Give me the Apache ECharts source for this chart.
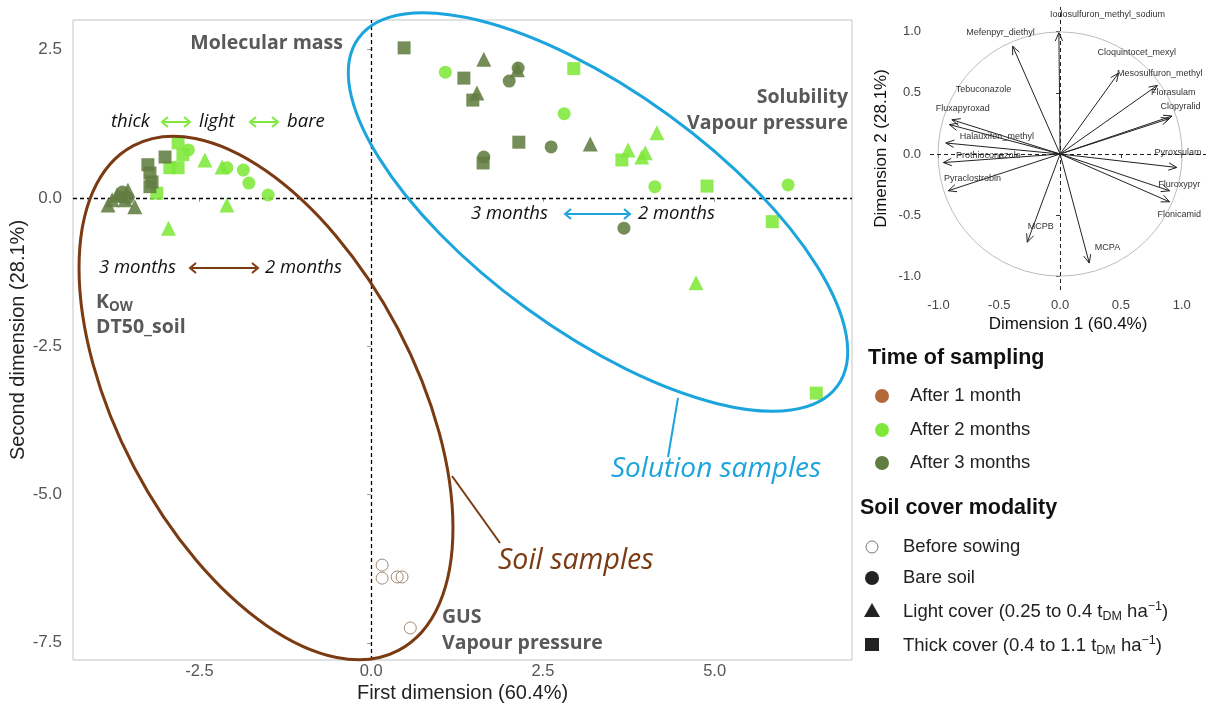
<!DOCTYPE html>
<html>
<head>
<meta charset="utf-8">
<script src="https://cdn.jsdelivr.net/npm/echarts@6/dist/echarts.min.js"></script>
<style>
  html, body { margin: 0; padding: 0; background: #ffffff; }
  #chart { width: 1206px; height: 711px; }
</style>
</head>
<body>
<div id="chart"></div>
<script>
// ---- PCA individuals: [first dimension, second dimension] ----
const month2Bare  = [[-2.66, 0.81], [-2.10, 0.51], [-1.86, 0.47], [-1.78, 0.25], [-1.50, 0.05],
                     [1.08, 2.12], [2.81, 1.42], [4.13, 0.19], [6.07, 0.22]];
const month2Light = [[-2.42, 0.64], [-2.17, 0.52], [-2.10, -0.12], [-2.95, -0.51],
                     [3.74, 0.81], [3.99, 0.76], [4.16, 1.10], [3.94, 0.69], [4.73, -1.43]];
const month2Thick = [[-2.81, 0.93], [-2.93, 0.51], [-2.81, 0.51], [-3.12, 0.08], [-2.74, 0.73],
                     [2.95, 2.18], [3.65, 0.64], [4.89, 0.20], [5.84, -0.40], [6.48, -3.29]];
const month3Bare  = [[-3.65, 0.02], [-3.54, 0.00], [-3.62, 0.10],
                     [2.14, 2.19], [2.01, 1.97], [2.62, 0.86], [1.64, 0.69], [3.68, -0.51]];
const month3Light = [[-3.83, -0.12], [-3.70, 0.05], [-3.54, 0.13], [-3.44, -0.15], [-3.58, -0.03], [-3.77, -0.03],
                     [1.64, 2.34], [1.54, 1.77], [2.13, 2.16], [3.19, 0.91]];
const month3Thick = [[-3.25, 0.56], [-3.22, 0.42], [-3.19, 0.27], [-3.22, 0.19], [-3.00, 0.69],
                     [0.48, 2.53], [1.35, 2.02], [1.48, 1.65], [2.15, 0.94], [1.63, 0.59]];
const beforeSowing = [[0.16, -6.19], [0.16, -6.41], [0.38, -6.39], [0.45, -6.39], [0.57, -7.25]];

const mainXTicks = [-2.5, 0, 2.5, 5];
const mainYTicks = [-7.5, -5, -2.5, 0, 2.5];

// ---- PCA variables (correlation circle) ----
const loadingNames = ['Iodosulfuron_methyl_sodium', 'Mefenpyr_diethyl', 'Cloquintocet_mexyl', 'Mesosulfuron_methyl',
  'Florasulam', 'Clopyralid', 'Tebuconazole', 'Fluxapyroxad', 'Halauxifen_methyl', 'Prothioconazole',
  'Pyraclostrobin', 'Pyroxsulam', 'Fluroxypyr', 'Flonicamid', 'MCPB', 'MCPA'];
const loadingDim1 = [-0.01, -0.39, 0.48, 0.80, 0.92, 0.90, -0.89, -0.91, -0.94, -0.96, -0.92, 0.96, 0.90, 0.90, -0.27, 0.24];
const loadingDim2 = [0.99, 0.88, 0.66, 0.56, 0.31, 0.29, 0.28, 0.24, 0.09, -0.07, -0.30, -0.11, -0.30, -0.39, -0.72, -0.89];
// where each variable name is written (repelled label anchors)
const labelDim1 = [0.39, -0.49, 0.63, 0.82, 0.93, 0.99, -0.63, -0.80, -0.52, -0.59, -0.72, 0.97, 0.98, 0.98, -0.16, 0.39];
const labelDim2 = [1.14, 0.99, 0.83, 0.66, 0.50, 0.385, 0.53, 0.37, 0.14, -0.01, -0.20, 0.01, -0.25, -0.49, -0.59, -0.76];
const insetTicks = [-1.0, -0.5, 0.0, 0.5, 1.0];

// ---- styling ----
const C_M1 = '#b4693a';
const C_M2 = '#7fe83a';
const C_M3 = '#627d41';
const C_SOIL = '#7a3a12';
const C_SOLN = '#1ba5dc';
const NARROW = "'Liberation Sans Narrow', 'Liberation Sans', sans-serif";
const SANS = "'Liberation Sans', Arial, sans-serif";
const HUMAN = "'Open Sans', 'Noto Sans', sans-serif";

function pointSeries(name, data, symbol, size, color) {
  return {
    name, type: 'scatter', xAxisIndex: 0, yAxisIndex: 0, data,
    symbol, symbolSize: size, z: 3,
    itemStyle: { color, opacity: 0.88 },
    emphasis: { disabled: true }
  };
}

const arrowData = loadingDim1.map((x, i) => [x, loadingDim2[i]]);
const labelData = labelDim1.map((x, i) => [x, labelDim2[i], loadingNames[i]]);

const option = {
  animation: false,
  backgroundColor: '#ffffff',
  grid: [
    { left: 73, top: 20, width: 779, height: 640, outerBoundsMode: 'none', containLabel: false,
      show: true, borderColor: '#c4c4c4', borderWidth: 1, backgroundColor: 'transparent' },
    { left: 930, top: 7, width: 276, height: 283, outerBoundsMode: 'none', containLabel: false, show: false }
  ],
  xAxis: [
    {
      gridIndex: 0, type: 'value', min: -4.34, max: 7.0,
      splitLine: { show: false }, axisLine: { show: false },
      axisTick: { show: true, length: 4, lineStyle: { color: '#9a9a9a' }, customValues: mainXTicks },
      axisLabel: { customValues: mainXTicks, color: '#555', fontFamily: NARROW, fontSize: 16.5, margin: 3,
                   formatter: v => v.toFixed(1) },
      name: 'First dimension (60.4%)', nameLocation: 'middle', nameGap: 23, nameMoveOverlap: false,
      nameTextStyle: { color: '#222', fontFamily: SANS, fontSize: 20 }
    },
    {
      gridIndex: 1, type: 'value', min: -1.07, max: 1.2,
      splitLine: { show: false }, axisLine: { show: false },
      axisTick: { show: true, length: 4, lineStyle: { color: '#333' }, customValues: insetTicks },
      axisLabel: { customValues: insetTicks, color: '#444', fontFamily: SANS, fontSize: 13, margin: 9,
                   formatter: v => v.toFixed(1) },
      name: 'Dimension 1 (60.4%)', nameLocation: 'middle', nameGap: 26,
      nameTextStyle: { color: '#111', fontFamily: SANS, fontSize: 17 }
    }
  ],
  yAxis: [
    {
      gridIndex: 0, type: 'value', min: -7.79, max: 3.0,
      splitLine: { show: false }, axisLine: { show: false },
      axisTick: { show: true, length: 4, lineStyle: { color: '#9a9a9a' }, customValues: mainYTicks },
      axisLabel: { customValues: mainYTicks, color: '#555', fontFamily: NARROW, fontSize: 17, margin: 11,
                   formatter: v => v.toFixed(1) },
      name: 'Second dimension (28.1%)', nameLocation: 'middle', nameGap: 45, nameMoveOverlap: false,
      nameTextStyle: { color: '#222', fontFamily: SANS, fontSize: 20 }
    },
    {
      gridIndex: 1, type: 'value', min: -1.11, max: 1.2,
      splitLine: { show: false }, axisLine: { show: false },
      axisTick: { show: true, length: 4, lineStyle: { color: '#333' }, customValues: insetTicks },
      axisLabel: { customValues: insetTicks, color: '#444', fontFamily: SANS, fontSize: 13, margin: 9,
                   formatter: v => v.toFixed(1) },
      name: 'Dimension 2 (28.1%)', nameLocation: 'middle', nameGap: 40,
      nameTextStyle: { color: '#111', fontFamily: SANS, fontSize: 17 }
    }
  ],
  series: [
    pointSeries('month2Bare', month2Bare, 'circle', 13, C_M2),
    pointSeries('month2Light', month2Light, 'triangle', 15, C_M2),
    pointSeries('month2Thick', month2Thick, 'rect', 13, C_M2),
    pointSeries('month3Bare', month3Bare, 'circle', 13, C_M3),
    pointSeries('month3Light', month3Light, 'triangle', 15, C_M3),
    pointSeries('month3Thick', month3Thick, 'rect', 13, C_M3),
    {
      name: 'beforeSowing', type: 'scatter', xAxisIndex: 0, yAxisIndex: 0, data: beforeSowing,
      symbol: 'circle', symbolSize: 12, z: 3,
      itemStyle: { color: 'rgba(255,255,255,0)', borderColor: '#8c6f55', borderWidth: 1 },
      emphasis: { disabled: true },
      markLine: {
        silent: true, symbol: 'none', z: 2,
        label: { show: false },
        lineStyle: { color: '#000', type: [4, 3], width: 1.3 },
        data: [{ xAxis: 0 }, { yAxis: 0 }]
      }
    },
    // correlation circle
    {
      type: 'custom', xAxisIndex: 1, yAxisIndex: 1, data: [[0, 0]], silent: true, z: 1,
      renderItem(params, api) {
        const c = api.coord([0, 0]);
        const s = api.size([1, 1]);
        return { type: 'circle', shape: { cx: c[0], cy: c[1], r: (s[0] + s[1]) / 2 },
                 style: { fill: 'none', stroke: '#bdbdbd', lineWidth: 1 } };
      },
      markLine: {
        silent: true, symbol: 'none',
        label: { show: false },
        lineStyle: { color: '#222', type: [4, 3], width: 1 },
        data: [{ xAxis: 0 }, { yAxis: 0 }]
      }
    },
    // variable arrows
    {
      type: 'custom', xAxisIndex: 1, yAxisIndex: 1, data: arrowData, silent: true, z: 2,
      renderItem(params, api) {
        const o = api.coord([0, 0]);
        const p = api.coord([api.value(0), api.value(1)]);
        const ang = Math.atan2(p[1] - o[1], p[0] - o[0]);
        const L = 9, spread = 0.42;
        const a1 = [p[0] - L * Math.cos(ang - spread), p[1] - L * Math.sin(ang - spread)];
        const a2 = [p[0] - L * Math.cos(ang + spread), p[1] - L * Math.sin(ang + spread)];
        const st = { stroke: '#222', lineWidth: 1, fill: 'none' };
        return { type: 'group', children: [
          { type: 'line', shape: { x1: o[0], y1: o[1], x2: p[0], y2: p[1] }, style: st },
          { type: 'polyline', shape: { points: [a1, p, a2] }, style: st }
        ]};
      }
    },
    // variable names
    {
      type: 'custom', xAxisIndex: 1, yAxisIndex: 1, data: labelData, silent: true, z: 3,
      renderItem(params, api) {
        const p = api.coord([api.value(0), api.value(1)]);
        return { type: 'text', x: p[0], y: p[1],
                 style: { text: labelData[params.dataIndex][2], fill: '#333', font: "9px " + SANS,
                          align: 'center', verticalAlign: 'middle' } };
      }
    }
  ],
  graphic: { elements: [] }
};

// ---- annotations over the score plot ----
const G = option.graphic.elements;
function txt(x, y, text, font, fill, align, rich) {
  G.push({ type: 'text', x, y, z: 50, silent: true,
           style: { text, font, fill, align: align || 'left', verticalAlign: 'middle', rich } });
}
function dblArrow(x1, x2, y, color, w) {
  const h = 5;
  G.push({ type: 'line', z: 50, silent: true, shape: { x1: x1 + 2, y1: y, x2: x2 - 2, y2: y },
           style: { stroke: color, lineWidth: w } });
  G.push({ type: 'polyline', z: 50, silent: true, shape: { points: [[x1 + h + 1, y - h], [x1, y], [x1 + h + 1, y + h]] },
           style: { stroke: color, lineWidth: w, fill: 'none' } });
  G.push({ type: 'polyline', z: 50, silent: true, shape: { points: [[x2 - h - 1, y - h], [x2, y], [x2 - h - 1, y + h]] },
           style: { stroke: color, lineWidth: w, fill: 'none' } });
}

// sample groups
G.push({ type: 'ellipse', z: 40, silent: true, x: 266, y: 398, rotation: 27.7 * Math.PI / 180,
         shape: { cx: 0, cy: 0, rx: 149, ry: 285 }, style: { fill: 'none', stroke: C_SOIL, lineWidth: 3 } });
G.push({ type: 'ellipse', z: 40, silent: true, x: 598, y: 212, rotation: -36 * Math.PI / 180,
         shape: { cx: 0, cy: 0, rx: 296, ry: 120 }, style: { fill: 'none', stroke: C_SOLN, lineWidth: 3 } });
G.push({ type: 'line', z: 40, silent: true, shape: { x1: 452, y1: 476, x2: 500, y2: 543 },
         style: { stroke: C_SOIL, lineWidth: 2 } });
G.push({ type: 'line', z: 40, silent: true, shape: { x1: 678, y1: 398, x2: 668, y2: 457 },
         style: { stroke: C_SOLN, lineWidth: 2 } });
txt(498, 561, 'Soil samples', 'italic 28.5px ' + HUMAN, C_SOIL);
txt(611, 469, 'Solution samples', 'italic 28px ' + HUMAN, C_SOLN);

// property annotations
const PROP = 'bold 19.5px ' + HUMAN;
txt(343, 43, 'Molecular mass', PROP, '#595959', 'right');
txt(848, 97, 'Solubility', PROP, '#595959', 'right');
txt(848, 123, 'Vapour pressure', PROP, '#595959', 'right');
txt(96, 302, 'K{s|OW}', PROP, '#595959', 'left', { s: { font: 'bold 13.5px ' + HUMAN, fill: '#595959', padding: [10, 0, 0, 0] } });
txt(96, 327, 'DT50_soil', PROP, '#595959');
txt(442, 617, 'GUS', PROP, '#595959');
txt(442, 643, 'Vapour pressure', PROP, '#595959');

// gradients
const IT = 'italic 18.5px ' + HUMAN;
txt(111, 122, 'thick', IT, '#111');
dblArrow(162, 190, 122, '#7fe83a', 2);
txt(199, 122, 'light', IT, '#111');
dblArrow(250, 278, 122, '#7fe83a', 2);
txt(287, 122, 'bare', IT, '#111');
txt(99, 268, '3 months', IT, '#111');
dblArrow(190, 258, 268, '#7a3a12', 2);
txt(265, 268, '2 months', IT, '#111');
txt(471, 214, '3 months', IT, '#111');
dblArrow(565, 630, 214, C_SOLN, 2);
txt(638, 214, '2 months', IT, '#111');

// ---- legends ----
const LH = 'bold 21.5px ' + SANS;
const LT = '18.5px ' + SANS;
txt(868, 358, 'Time of sampling', LH, '#111');
[[396, C_M1, 'After 1 month'], [430, C_M2, 'After 2 months'], [463, C_M3, 'After 3 months']].forEach(([y, c, t]) => {
  G.push({ type: 'circle', z: 50, silent: true, shape: { cx: 882, cy: y, r: 7 }, style: { fill: c } });
  txt(910, y, t, LT, '#222');
});
txt(860, 508, 'Soil cover modality', LH, '#111');
G.push({ type: 'circle', z: 50, silent: true, shape: { cx: 872, cy: 547, r: 6 }, style: { fill: '#fff', stroke: '#777', lineWidth: 1 } });
txt(903, 547, 'Before sowing', LT, '#222');
G.push({ type: 'circle', z: 50, silent: true, shape: { cx: 872, cy: 578, r: 7 }, style: { fill: '#222' } });
txt(903, 578, 'Bare soil', LT, '#222');
G.push({ type: 'polygon', z: 50, silent: true, shape: { points: [[872, 603], [880, 617], [864, 617]] }, style: { fill: '#222' } });
const richUnits = {
  sub: { font: '12.5px ' + SANS, fill: '#222', padding: [9, 0, 0, 0] },
  sup: { font: '12.5px ' + SANS, fill: '#222', padding: [0, 0, 11, 0] }
};
txt(903, 612, 'Light cover (0.25 to 0.4 t{sub|DM} ha{sup|\u22121})', LT, '#222', 'left', richUnits);
G.push({ type: 'rect', z: 50, silent: true, shape: { x: 865, y: 638, width: 14, height: 13 }, style: { fill: '#222' } });
txt(903, 646, 'Thick cover (0.4 to 1.1 t{sub|DM} ha{sup|\u22121})', LT, '#222', 'left', richUnits);

const chart = echarts.init(document.getElementById('chart'));
chart.setOption(option);
</script>
</body>
</html>
